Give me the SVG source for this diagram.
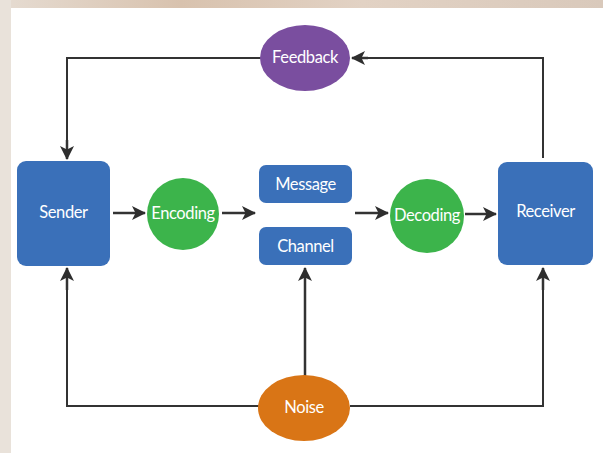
<svg xmlns="http://www.w3.org/2000/svg" width="603" height="453" viewBox="0 0 603 453">
<defs>
<linearGradient id="bgTop" x1="0" y1="0" x2="1" y2="0">
<stop offset="0" stop-color="#e6dcd2"/>
<stop offset="0.3" stop-color="#d8c2ae"/>
<stop offset="0.6" stop-color="#e2d2c4"/>
<stop offset="1" stop-color="#d9c9bb"/>
</linearGradient>
<marker id="ah" viewBox="0 0 14 14" refX="13" refY="7" markerWidth="14" markerHeight="14" markerUnits="userSpaceOnUse" orient="auto">
<path d="M0,0 L14,7 L0,14 L3.5,7 Z" fill="#2e2e2e"/>
</marker>
<style>
.line{fill:none;stroke:#333333;stroke-width:2}
.arr{fill:none;stroke:#333333;stroke-width:2.5;marker-end:url(#ah)}
.blue{fill:#3a70b9}
.green{fill:#3cb44b}
.lbl{font-family:Lato,"Open Sans","Liberation Sans",sans-serif;font-size:16.5px;letter-spacing:-0.4px;fill:#ffffff;text-anchor:middle;dominant-baseline:central}
</style>
</defs>
<rect x="0" y="0" width="603" height="453" fill="#ffffff"/>
<rect x="0" y="0" width="603" height="8" fill="url(#bgTop)"/>
<rect x="0" y="0" width="11" height="453" fill="#e9e2da"/>

<g id="connectors">
<polyline class="line" points="305,58 67,58 67,150"/>
<line class="arr" x1="67" y1="140" x2="67" y2="159"/>
<polyline class="line" points="543,158 543,58 365,58"/>
<line class="arr" x1="368" y1="58" x2="352" y2="58"/>
<polyline class="line" points="260,406 67,406 67,285"/>
<line class="arr" x1="67" y1="290" x2="67" y2="268"/>
<polyline class="line" points="350,406 543,406 543,285"/>
<line class="arr" x1="543" y1="290" x2="543" y2="268"/>
<line class="arr" x1="305" y1="376" x2="305" y2="268"/>
<line class="arr" x1="113" y1="213" x2="145" y2="213"/>
<line class="arr" x1="222" y1="213" x2="255" y2="213"/>
<line class="arr" x1="355" y1="213" x2="388" y2="213"/>
<line class="arr" x1="465" y1="214" x2="496" y2="214"/>
</g>

<g id="feedback">
<ellipse cx="305" cy="58" rx="45" ry="33" fill="#7a4e9f"/>
<text class="lbl" x="305" y="57">Feedback</text>
</g>
<g id="sender">
<rect class="blue" x="17" y="161" width="93" height="105" rx="9"/>
<text class="lbl" x="63.5" y="212">Sender</text>
</g>
<g id="encoding">
<circle class="green" cx="183" cy="214" r="36"/>
<text class="lbl" x="183" y="213">Encoding</text>
</g>
<g id="message">
<rect class="blue" x="259" y="165" width="93" height="38" rx="7"/>
<text class="lbl" x="305.5" y="184">Message</text>
</g>
<g id="channel">
<rect class="blue" x="259" y="227" width="93" height="38" rx="7"/>
<text class="lbl" x="305.5" y="246">Channel</text>
</g>
<g id="decoding">
<circle class="green" cx="427" cy="216" r="37"/>
<text class="lbl" x="427" y="215">Decoding</text>
</g>
<g id="receiver">
<rect class="blue" x="498" y="162" width="95" height="103" rx="9"/>
<text class="lbl" x="545.5" y="211">Receiver</text>
</g>
<g id="noise">
<ellipse cx="304" cy="408" rx="46" ry="33" fill="#d97516"/>
<text class="lbl" x="304" y="407">Noise</text>
</g>
</svg>
